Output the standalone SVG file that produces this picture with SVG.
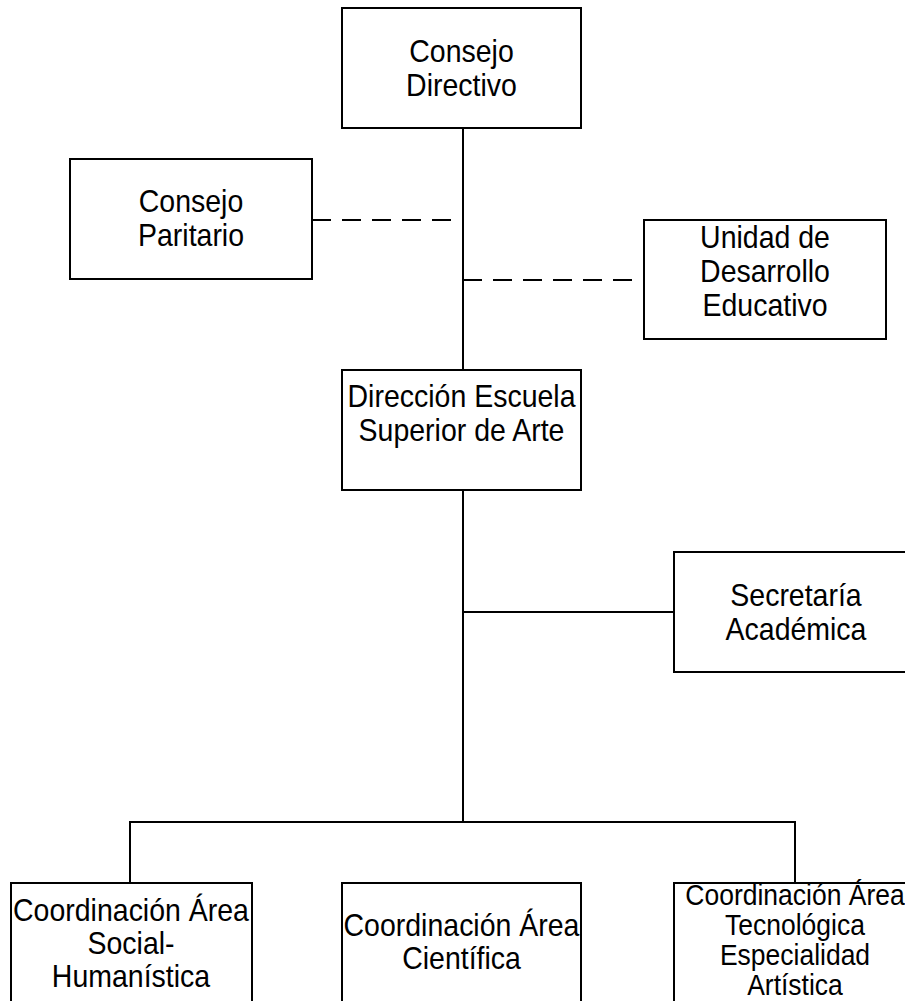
<svg xmlns="http://www.w3.org/2000/svg" width="905" height="1001" viewBox="0 0 905 1001">
<style>
.box{fill:#fff;stroke:#000;stroke-width:2}
.t{font-family:"Liberation Sans",Arial,sans-serif;font-size:28.5px;fill:#000;text-anchor:middle}
.s{font-size:26.5px}
.ln{stroke:#000;stroke-width:2;fill:none}
.d{stroke-dasharray:19 11}
</style>
<rect width="905" height="1001" fill="#fff"/>
<g id="connectors">
<path class="ln" d="M463 128V822"/>
<path class="ln" d="M463 612H674"/>
<path class="ln" d="M130 883V822H795V883"/>
<path class="ln d" d="M312 220H459"/>
<path class="ln d" d="M463 280H644"/>
</g>
<g id="consejo-directivo">
<rect class="box" x="342" y="8" width="239" height="120"/>
<text class="t" transform="translate(461.5 62) scale(1 1.1)">Consejo</text>
<text class="t" transform="translate(461.5 96) scale(1 1.1)">Directivo</text>
</g>
<g id="consejo-paritario">
<rect class="box" x="70" y="159" width="242" height="120"/>
<text class="t" transform="translate(191 212) scale(1 1.1)">Consejo</text>
<text class="t" transform="translate(191 246) scale(1 1.1)">Paritario</text>
</g>
<g id="unidad-desarrollo">
<rect class="box" x="644" y="220" width="242" height="119"/>
<text class="t" transform="translate(765 248) scale(1 1.1)">Unidad de</text>
<text class="t" transform="translate(765 282) scale(1 1.1)">Desarrollo</text>
<text class="t" transform="translate(765 316) scale(1 1.1)">Educativo</text>
</g>
<g id="direccion">
<rect class="box" x="342" y="370" width="239" height="120"/>
<text class="t" transform="translate(461.5 407) scale(1 1.1)">Dirección Escuela</text>
<text class="t" transform="translate(461.5 441) scale(1 1.1)">Superior de Arte</text>
</g>
<g id="secretaria">
<rect class="box" x="674" y="552" width="243" height="120"/>
<text class="t" transform="translate(796 606) scale(1 1.1)">Secretaría</text>
<text class="t" transform="translate(796 640) scale(1 1.1)">Académica</text>
</g>
<g id="coord-social">
<rect class="box" x="11" y="883" width="241" height="130"/>
<text class="t" transform="translate(131 921) scale(1 1.1)">Coordinación Área</text>
<text class="t" transform="translate(131 954) scale(1 1.1)">Social-</text>
<text class="t" transform="translate(131 987) scale(1 1.1)">Humanística</text>
</g>
<g id="coord-cientifica">
<rect class="box" x="342" y="883" width="239" height="130"/>
<text class="t" transform="translate(461.5 936) scale(1 1.1)">Coordinación Área</text>
<text class="t" transform="translate(461.5 969) scale(1 1.1)">Científica</text>
</g>
<g id="coord-tecnologica">
<rect class="box" x="674" y="883" width="243" height="130"/>
<text class="t s" transform="translate(795 905) scale(1 1.1)">Coordinación Área</text>
<text class="t s" transform="translate(795 935) scale(1 1.1)">Tecnológica</text>
<text class="t s" transform="translate(795 965) scale(1 1.1)">Especialidad</text>
<text class="t s" transform="translate(795 995) scale(1 1.1)">Artística</text>
</g>
</svg>
